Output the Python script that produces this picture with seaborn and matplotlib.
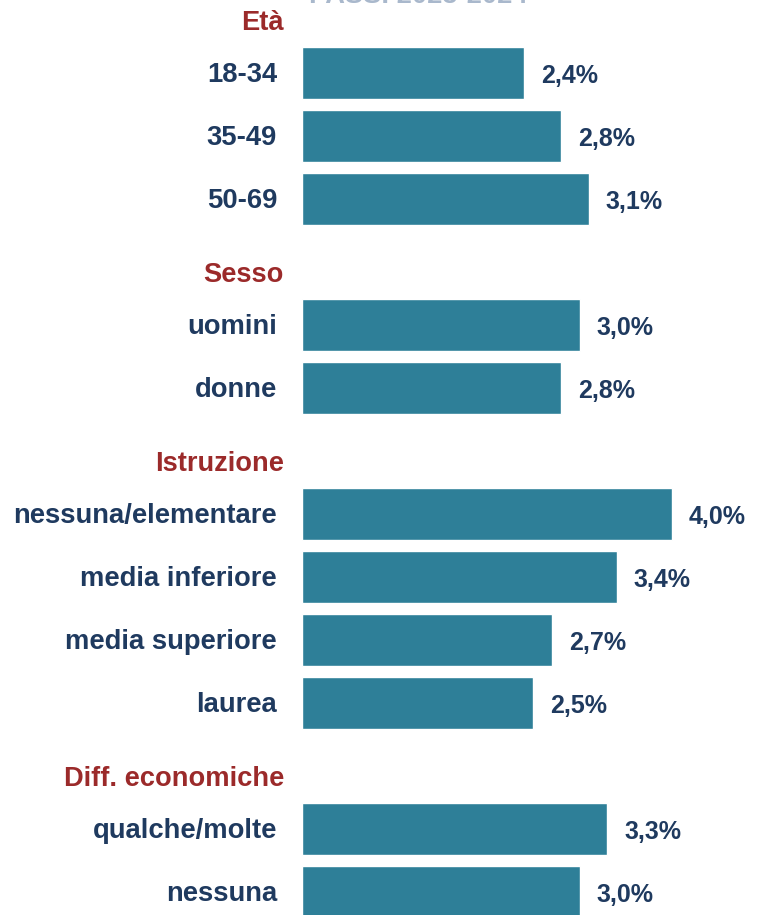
import matplotlib
matplotlib.use("Agg")
import matplotlib.pyplot as plt
import seaborn as sns
import pandas as pd
import numpy as np

groups = ["Età", "Sesso", "Istruzione", "Diff. economiche"]
eta_labels = ["18-34", "35-49", "50-69"]
eta_values = [2.4, 2.8, 3.1]
sesso_labels = ["uomini", "donne"]
sesso_values = [3.0, 2.8]
istr_labels = ["nessuna/elementare", "media inferiore", "media superiore", "laurea"]
istr_values = [4.0, 3.4, 2.7, 2.5]
diff_labels = ["qualche/molte", "nessuna "]
diff_values = [3.3, 3.0]
title_text = "PASSI 2023-2024"

sns.set_theme(style="white")
plt.rcParams['font.family'] = ['Liberation Sans', 'DejaVu Sans']

rows = []
for g, labs, vals in [(groups[0], eta_labels, eta_values), (groups[1], sesso_labels, sesso_values),
                      (groups[2], istr_labels, istr_values), (groups[3], diff_labels, diff_values)]:
    rows.append({"cat": "__" + g, "val": np.nan, "header": True, "text": g})
    for l, v in zip(labs, vals):
        rows.append({"cat": l, "val": v, "header": False, "text": l.strip()})
df = pd.DataFrame(rows)

W, H = 763, 915
fig = plt.figure(figsize=(W / 100, H / 100), dpi=100)
left_px = 302
ax = fig.add_axes([left_px / W, 0, 1 - left_px / W, 1])

bar_color = "#2E7F98"
label_color = "#1F3A5F"
header_color = "#9B2A2A"

sns.barplot(data=df, y="cat", x="val", order=list(df["cat"]), orient="h",
            color=bar_color, saturation=1, width=0.83, ax=ax, errorbar=None)

px_per_unit = 92.5
ax.set_xlim(0, (W - left_px) / px_per_unit)
# index 0 at pixel 10, 63 px per index
ax.set_ylim(14 + 23 / 63, -10 / 63)
ax.axis("off")

for i, r in df.iterrows():
    if r["header"]:
        ax.text(-18 / px_per_unit, i + 0.2, r["text"], ha="right", va="center",
                color=header_color, fontsize=19.6, fontweight="bold", clip_on=False)
    else:
        ax.text(-25 / px_per_unit, i + 0.03, r["text"], ha="right", va="center",
                color=label_color, fontsize=19.7, fontweight="bold", clip_on=False)
        ax.text(r["val"] + 17 / px_per_unit, i + 0.05, f"{r['val']:.1f}%".replace(".", ","),
                ha="left", va="center", color=label_color, fontsize=18, fontweight="bold")

fig.text(418 / W, 1 - 3 / H, title_text, ha="center", va="baseline",
         color="#A9B8CC", fontsize=19.6, fontweight="bold")

fig.savefig("out.png", dpi=100, facecolor="white")
